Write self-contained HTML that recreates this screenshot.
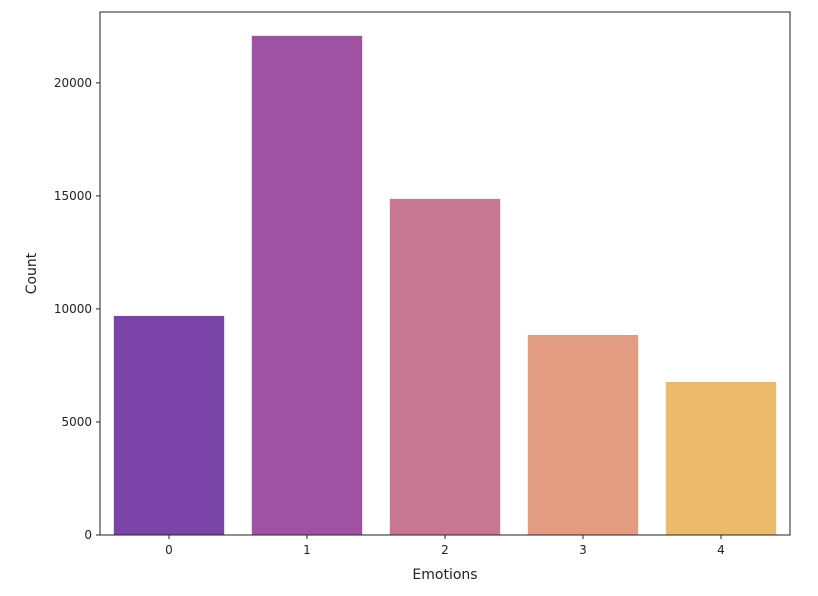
<!DOCTYPE html>
<html><head><meta charset="utf-8"><style>
body{margin:0;background:#fff;width:818px;height:591px;overflow:hidden;font-family:"Liberation Sans","DejaVu Sans",sans-serif}
text{font-family:"DejaVu Sans","Liberation Sans",sans-serif}
</style></head><body>
<svg id="chart" width="818" height="591" xmlns="http://www.w3.org/2000/svg"></svg>
<script>
const categories = ["0","1","2","3","4"];
const counts = [9690, 22080, 14870, 8850, 6770];
const colors = ["#7b44a8","#a052a2","#c87793","#e39b82","#ebba6a"];
const yTicks = [0,5000,10000,15000,20000];
const L=100,R=790,T=12,B=535;
const ymax=23135;
function ys(v){return B-(v/ymax)*(B-T);}
const band=(R-L)/categories.length;
function xc(i){return L+band*(i+0.5);}
const svg=document.getElementById('chart');
const NS="http://www.w3.org/2000/svg";
function mk(t,a,txt){const e=document.createElementNS(NS,t);for(const k in a)e.setAttribute(k,a[k]);if(txt!==undefined)e.textContent=txt;svg.appendChild(e);return e;}
categories.forEach((c,i)=>{
  const w=band*0.8;
  const r=mk('rect',{x:xc(i)-w/2,y:ys(counts[i]),width:w,height:B-ys(counts[i]),fill:colors[i]});
  
  
  const tk=mk('line',{x1:xc(i),x2:xc(i),y1:B,y2:B+4,stroke:'#222','stroke-width':1});
  
  
  const tl=mk('text',{x:xc(i),y:B+19,'text-anchor':'middle','font-size':12,fill:'#222'},c);
  
  
});
yTicks.forEach(v=>{
  const tk=mk('line',{x1:L-4,x2:L,y1:ys(v),y2:ys(v),stroke:'#222','stroke-width':1});
  
  
  const tl=mk('text',{x:L-8,y:ys(v)+4,'text-anchor':'end','font-size':12,fill:'#222'},String(v));
  
  
});
const fr=mk('rect',{x:L,y:T,width:R-L,height:B-T,fill:'none',stroke:'#222','stroke-width':1});


const xt=mk('text',{x:(L+R)/2,y:579,'text-anchor':'middle','font-size':14,fill:'#222'},'Emotions');


const yt=mk('text',{x:36,y:(T+B)/2,'text-anchor':'middle','font-size':14,fill:'#222',transform:'rotate(-90 36 '+((T+B)/2)+')'},'Count');


</script>
</body></html>
